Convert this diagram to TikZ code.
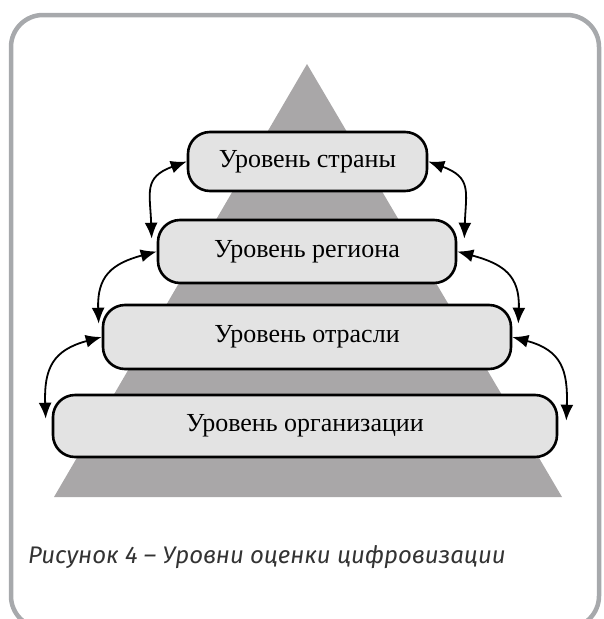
\documentclass[tikz,border=0pt]{standalone}
\usepackage{fontspec}
\setmainfont{Liberation Serif}
\newfontfamily\capfont{Fira Sans}
\usetikzlibrary{arrows.meta}
\definecolor{framegray}{HTML}{A7A9AC}
\definecolor{trigray}{HTML}{A9A7A8}
\definecolor{boxgray}{HTML}{E3E3E3}
\definecolor{captext}{HTML}{333333}
\tikzset{
  levelbox/.style={draw=black, line width=2.6pt, fill=boxgray, rounded corners=22pt,
    inner sep=0pt, font=\fontsize{26}{30}\selectfont},
  linkarrow/.style={line width=1.8pt, {Latex[length=16pt,width=13pt]}-{Latex[length=16pt,width=13pt]}},
}
\begin{document}
\begin{tikzpicture}[x=1pt,y=-1pt]
\useasboundingbox (0,0) rectangle (604,619);
% frame
\draw[framegray, line width=4.5pt, rounded corners=32pt] (11,15) rectangle (599,628);
% pyramid
\fill[trigray] (307,64) -- (562,497) -- (54,497) -- cycle;
% boxes
\node[levelbox, minimum width=239pt, minimum height=59pt] (b1) at (307.5,161.5) {Уровень страны};
\node[levelbox, minimum width=298pt, minimum height=63pt] (b2) at (307,251.5) {Уровень региона};
\node[levelbox, minimum width=408pt, minimum height=64pt] (b3) at (307,337) {Уровень отрасли};
\node[levelbox, minimum width=504pt, minimum height=62pt] (b4) at (305,426) {Уровень организации};
% arrows
\draw[linkarrow] (b1.west) to[out=200,in=92,looseness=1.4] ([shift={(-5,20)}]b2.north west);
\draw[linkarrow] (b1.east) to[out=-20,in=88,looseness=1.4] ([shift={(7,20)}]b2.north east);
\draw[linkarrow] (b2.west) to[out=195,in=92,looseness=1.3] ([shift={(-3,20)}]b3.north west);
\draw[linkarrow] (b2.east) to[out=-15,in=88,looseness=1.3] ([shift={(6,20)}]b3.north east);
\draw[linkarrow] (b3.west) to[out=195,in=92,looseness=1.3] ([shift={(-6,25)}]b4.north west);
\draw[linkarrow] (b3.east) to[out=-15,in=88,looseness=1.3] ([shift={(8,27)}]b4.north east);
% caption
\node[anchor=base west, inner sep=0pt, text=captext, font=\capfont\itshape\fontsize{24}{28}\selectfont] (cap) at (28,563) {Рисунок 4 – Уровни оценки цифровизации};
\end{tikzpicture}
\end{document}
